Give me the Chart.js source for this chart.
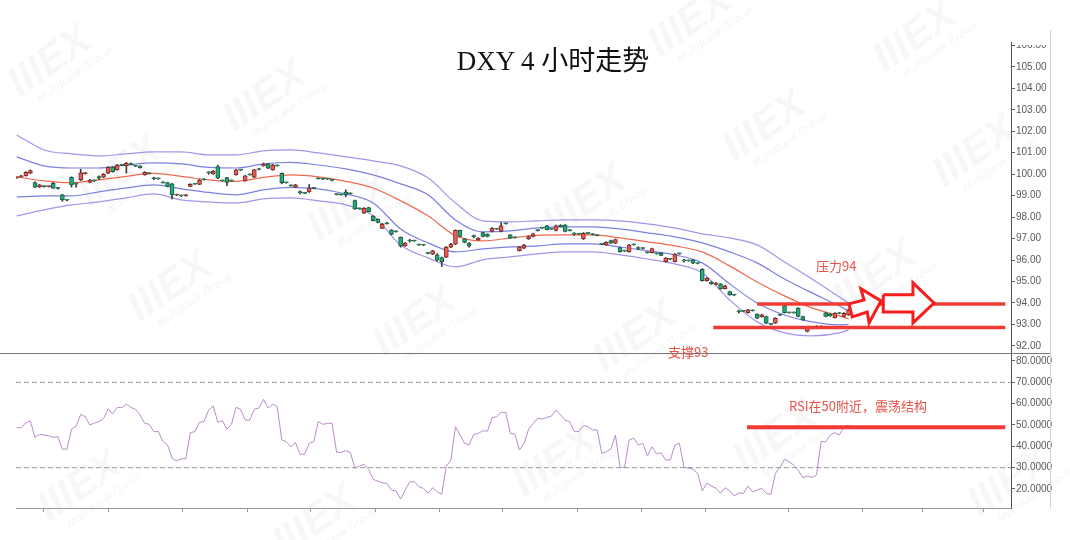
<!doctype html>
<html>
<head>
  <meta charset="utf-8" />
  <title>DXY 4小时走势</title>
  <style>
    body{margin:0;background:#fff}
    #wrap{position:relative;width:1070px;height:540px;overflow:hidden;background:#fff}
    #wrap canvas{position:absolute;left:0}
    .note{position:absolute;color:#e8534a;font:13px "Noto Sans CJK SC","Liberation Sans",sans-serif;white-space:nowrap;line-height:16px}
    .rule{position:absolute;background:#777}
    #title{position:absolute;left:353px;width:400px;top:46px;text-align:center;color:#111;
      font:27px "Liberation Serif","Noto Sans CJK SC",serif;line-height:30px}
    .wm{position:absolute;transform:rotate(-35deg);transform-origin:left top;color:rgba(0,0,0,.05);
      font:italic 900 42px "Liberation Sans",sans-serif;line-height:40px;white-space:nowrap}
    .wm span{display:block;font:italic 700 11px "Liberation Sans",sans-serif;line-height:12px;margin-left:14px}
  </style>
</head>
<body>
  <div id="wrap">
    <div class="wm" style="left:0;top:70px">IIIEX<span>MultiBank Group</span></div>
    <div class="wm" style="left:215px;top:105px">IIIEX<span>MultiBank Group</span></div>
    <div class="wm" style="left:640px;top:30px">IIIEX<span>MultiBank Group</span></div>
    <div class="wm" style="left:865px;top:45px">IIIEX<span>MultiBank Group</span></div>
    <div class="wm" style="left:715px;top:135px">IIIEX<span>MultiBank Group</span></div>
    <div class="wm" style="left:925px;top:160px">IIIEX<span>MultiBank Group</span></div>
    <div class="wm" style="left:70px;top:180px">IIIEX<span>MultiBank Group</span></div>
    <div class="wm" style="left:300px;top:215px">IIIEX<span>MultiBank Group</span></div>
    <div class="wm" style="left:535px;top:210px">IIIEX<span>MultiBank Group</span></div>
    <div class="wm" style="left:120px;top:295px">IIIEX<span>MultiBank Group</span></div>
    <div class="wm" style="left:365px;top:330px">IIIEX<span>MultiBank Group</span></div>
    <div class="wm" style="left:585px;top:345px">IIIEX<span>MultiBank Group</span></div>
    <div class="wm" style="left:825px;top:285px">IIIEX<span>MultiBank Group</span></div>
    <div class="wm" style="left:30px;top:495px">IIIEX<span>MultiBank Group</span></div>
    <div class="wm" style="left:265px;top:530px">IIIEX<span>MultiBank Group</span></div>
    <div class="wm" style="left:505px;top:470px">IIIEX<span>MultiBank Group</span></div>
    <div class="wm" style="left:725px;top:445px">IIIEX<span>MultiBank Group</span></div>
    <div class="wm" style="left:960px;top:490px">IIIEX<span>MultiBank Group</span></div>

    <canvas id="priceCanvas" width="1070" height="360" style="top:0"></canvas>
    <canvas id="rsiCanvas" width="1070" height="197" style="top:343px"></canvas>
    <div class="rule" style="left:0;top:353px;width:1050px;height:1px"></div>
    <div class="rule" style="left:1050px;top:30px;width:1px;height:479px;background:#d4d4d4"></div>
    <div style="position:absolute;left:1013px;top:0;width:36px;height:45px;background:#fff"></div>
    <div id="title">DXY 4 小时走势</div>
    <div class="note" style="left:816px;top:258px">压力94</div>
    <div class="note" style="left:668px;top:344px">支撑93</div>
    <div class="note" style="left:789px;top:398px">RSI在50附近，震荡结构</div>
  </div>

  <script src="https://cdn.jsdelivr.net/npm/chart.js@4.4.1/dist/chart.umd.min.js"></script>
  <script>
    // 4h candles, index = bar number
    const opens = [99.83,99.88,99.93,100.05,99.61,99.40,99.44,99.42,99.58,99.36,99.04,98.81,99.85,99.56,99.73,100.03,99.62,99.70,99.89,99.86,
      100.05,100.33,100.20,100.43,100.39,100.50,100.39,100.38,99.97,100.05,99.81,99.80,99.62,99.61,99.55,99.03,99.01,99.00,99.43,99.56,
      99.53,99.76,100.08,100.01,100.36,99.71,99.84,99.71,99.97,100.21,99.69,99.99,99.86,100.24,100.39,100.48,100.20,100.41,100.04,99.62,
      99.48,99.40,99.16,99.13,99.17,99.36,99.81,99.79,99.79,99.73,99.07,99.06,99.17,99.11,98.77,98.41,98.18,98.44,98.05,97.90,
      97.48,97.71,97.40,97.34,97.06,96.66,96.91,96.91,96.72,96.71,96.33,96.27,96.24,96.12,96.13,96.60,96.74,97.38,96.99,96.79,
      97.11,96.94,97.28,97.20,97.33,97.46,97.33,97.71,97.17,97.06,96.44,96.55,96.98,97.10,97.39,97.51,97.60,97.46,97.38,97.63,
      97.63,97.39,97.23,97.23,96.98,97.26,97.21,97.16,96.76,96.70,96.91,96.79,96.58,96.44,96.39,96.73,96.56,96.56,96.36,96.35,
      96.31,96.33,95.93,96.06,95.93,96.31,95.98,95.98,96.01,95.86,95.57,95.04,94.98,94.86,94.89,94.67,94.53,94.39,93.61,93.63,
      93.55,93.66,93.48,93.35,93.37,93.02,93.06,93.45,93.88,93.56,93.56,93.76,93.37,92.67,92.86,92.88,92.91,93.54,93.50,93.32,
      93.53,93.37,93.44];
    const closes = [99.85,99.92,100.09,100.17,99.40,99.50,99.42,99.44,99.35,99.34,98.80,98.79,99.50,99.54,100.07,100.05,99.73,99.69,99.81,100.00,
      100.33,100.12,100.43,100.41,100.51,100.45,100.37,100.30,100.09,100.03,99.79,99.78,99.60,99.43,99.04,99.05,98.99,99.02,99.53,99.54,
      99.73,99.74,100.06,100.15,99.81,99.69,99.62,99.69,100.20,100.19,99.92,99.97,100.20,100.22,100.46,100.28,100.43,100.39,99.61,99.60,
      99.46,99.50,99.14,99.11,99.35,99.34,99.79,99.77,99.77,99.71,99.05,99.04,99.04,99.09,98.38,98.39,98.41,98.26,97.84,97.75,
      97.68,97.69,97.20,97.32,96.66,96.79,96.89,96.89,96.70,96.69,96.31,96.43,96.00,95.93,96.60,96.75,97.38,97.10,96.82,96.66,
      97.09,97.02,97.10,97.10,97.48,97.44,97.60,97.69,97.02,97.04,96.60,96.70,97.10,97.22,97.37,97.49,97.42,97.44,97.60,97.56,
      97.33,97.37,97.21,97.21,97.25,97.24,97.19,97.14,96.74,96.83,96.79,96.95,96.39,96.42,96.70,96.71,96.54,96.54,96.34,96.53,
      96.29,96.22,96.09,96.04,96.27,96.29,95.96,95.96,95.85,95.84,95.04,95.15,94.89,94.93,94.66,94.80,94.38,94.37,93.59,93.61,
      93.68,93.64,93.29,93.45,93.06,93.00,93.29,93.43,93.55,93.54,93.54,93.37,93.21,92.82,92.84,92.86,92.89,93.37,93.40,93.52,
      93.51,93.52,93.68];
    const highs = [99.88,99.95,100.12,100.20,99.65,99.53,99.46,99.46,99.62,99.38,99.07,98.83,99.88,99.60,100.23,100.08,99.76,99.73,99.92,100.03,
      100.36,100.35,100.46,100.45,100.55,100.53,100.41,100.40,100.12,100.07,99.86,99.82,99.64,99.63,99.58,99.07,99.03,99.04,99.56,99.58,
      99.76,99.78,100.12,100.18,100.42,99.73,99.86,99.73,100.23,100.23,99.95,100.01,100.23,100.26,100.52,100.50,100.46,100.43,100.06,99.64,
      99.50,99.53,99.22,99.15,99.52,99.38,99.83,99.81,99.81,99.75,99.09,99.08,99.27,99.13,98.80,98.43,98.44,98.46,98.07,97.92,
      97.71,97.76,97.42,97.36,97.08,96.82,96.97,96.93,96.74,96.73,96.35,96.46,96.30,96.14,96.63,96.78,97.41,97.40,97.01,96.81,
      97.17,97.05,97.30,97.22,97.51,97.48,97.75,97.73,97.19,97.08,96.63,96.73,97.13,97.25,97.41,97.53,97.62,97.48,97.63,97.65,
      97.65,97.41,97.28,97.25,97.28,97.28,97.23,97.18,96.78,96.86,96.93,96.98,96.60,96.46,96.73,96.75,96.62,96.58,96.38,96.56,
      96.33,96.35,96.12,96.08,96.30,96.33,96.04,96.00,96.03,95.88,95.60,95.18,95.00,94.96,94.91,94.83,94.55,94.41,93.67,93.65,
      93.71,93.68,93.50,93.48,93.39,93.04,93.32,93.47,93.90,93.58,93.58,93.78,93.39,92.85,92.88,92.95,92.93,93.56,93.52,93.55,
      93.55,93.55,93.72];
    const lows = [99.80,99.86,99.91,100.02,99.37,99.38,99.40,99.40,99.33,99.30,98.74,98.76,99.40,99.40,99.70,100.00,99.60,99.66,99.74,99.84,
      100.03,100.10,100.18,100.39,100.05,100.43,100.35,100.28,99.95,100.01,99.74,99.76,99.58,99.41,98.85,99.00,98.96,98.97,99.41,99.52,
      99.51,99.72,100.00,99.99,99.79,99.67,99.47,99.67,99.95,100.17,99.67,99.95,99.84,100.20,100.37,100.26,100.18,100.37,99.55,99.58,
      99.44,99.38,99.08,99.09,99.15,99.32,99.77,99.75,99.75,99.69,99.03,99.02,98.95,99.07,98.36,98.37,98.16,98.24,97.82,97.73,
      97.46,97.67,97.18,97.30,96.60,96.64,96.83,96.87,96.68,96.67,96.29,96.25,95.95,95.70,96.11,96.58,96.72,97.08,96.80,96.60,
      97.03,96.92,97.08,97.08,97.31,97.42,97.31,97.67,97.00,97.02,96.42,96.53,96.96,97.08,97.35,97.47,97.40,97.42,97.36,97.54,
      97.31,97.35,97.15,97.19,96.96,97.22,97.17,97.12,96.72,96.68,96.77,96.77,96.37,96.40,96.37,96.69,96.48,96.52,96.32,96.33,
      96.27,96.20,95.91,96.02,95.91,96.27,95.90,95.94,95.83,95.82,95.02,95.02,94.87,94.84,94.64,94.65,94.36,94.35,93.53,93.59,
      93.53,93.62,93.27,93.33,93.04,92.98,93.04,93.41,93.53,93.52,93.52,93.35,93.19,92.65,92.82,92.80,92.87,93.35,93.38,93.30,
      93.49,93.35,93.42];

    // band lines read every 6 bars
    const bandIdx = [0,6,12,18,24,30,36,42,48,54,60,66,72,78,84,90,96,102,108,114,120,126,132,138,144,150,156,162,168,174,180,182];
    const upperOuter = [101.83,101.13,100.95,100.85,100.95,101.04,101.04,100.90,100.90,101.09,101.13,100.99,100.81,100.62,100.39,99.83,98.66,97.83,97.78,97.83,97.87,97.87,97.83,97.69,97.50,97.22,97.03,96.71,95.91,95.12,94.28,94.00];
    const upperInner = [100.81,100.39,100.29,100.29,100.43,100.53,100.48,100.32,100.29,100.48,100.55,100.43,100.25,99.97,99.55,99.04,97.87,97.31,97.36,97.50,97.55,97.55,97.45,97.27,97.08,96.80,96.38,95.87,95.12,94.47,93.86,93.63];
    const middle = [99.88,99.69,99.60,99.74,99.90,100.04,99.90,99.74,99.67,99.85,99.97,99.88,99.67,99.36,98.76,98.06,97.13,96.89,97.03,97.15,97.17,97.17,97.03,96.85,96.66,96.38,95.73,94.98,94.33,93.77,93.40,93.26];
    const lowerInner = [98.94,98.99,98.99,99.18,99.36,99.50,99.32,99.15,99.04,99.27,99.39,99.32,99.08,98.66,97.45,96.80,96.38,96.52,96.61,96.66,96.75,96.75,96.61,96.43,96.24,95.87,94.89,94.00,93.44,93.12,92.98,93.00];
    const lowerOuter = [98.06,98.34,98.57,98.71,98.90,99.08,98.80,98.71,98.66,98.85,98.90,98.76,98.57,98.06,96.70,96.10,95.68,96.01,96.15,96.29,96.38,96.38,96.24,96.05,95.82,95.40,94.14,93.12,92.61,92.47,92.61,92.75];

    const rsi = [48.7,48.7,51.1,51.9,44.2,45.6,45.3,45.0,44.2,44.5,38.7,38.7,48.1,49.4,55.0,53.9,50.0,50.9,51.6,53.1,
      57.5,55.2,58.3,58.1,59.8,58.3,57.3,54.7,50.8,50.3,46.9,46.9,42.2,40.7,34.4,33.2,34.1,34.1,46.4,46.9,
      51.3,51.6,57.0,59.0,51.3,52.0,48.1,50.3,58.3,57.3,52.3,52.3,57.4,57.9,62.0,57.9,59.8,58.6,43.0,42.2,
      39.8,41.8,36.3,36.3,41.4,42.2,51.6,50.3,50.8,50.8,37.2,37.2,38.0,37.2,29.7,30.8,31.5,29.2,24.5,23.7,
      22.9,22.6,19.5,19.1,15.3,19.5,23.4,23.4,21.1,20.3,18.0,20.6,18.7,17.5,30.8,33.6,49.2,45.3,41.4,40.7,
      45.6,46.1,47.3,47.1,53.4,53.9,55.9,55.9,46.1,45.8,38.3,41.4,48.0,50.8,53.1,52.8,53.6,54.2,57.0,54.7,
      52.3,51.6,46.9,46.9,49.7,49.2,47.7,47.7,36.7,37.5,38.7,45.3,30.2,30.2,43.0,43.8,40.6,41.4,35.5,39.8,
      36.4,37.0,33.6,33.6,40.6,41.4,30.2,29.7,29.2,27.3,19.1,22.7,21.4,20.3,18.0,20.6,19.1,16.7,18.2,17.9,
      21.4,18.7,19.5,20.3,18.0,17.5,27.3,30.2,33.9,32.8,31.2,28.8,25.3,26.1,25.4,26.6,42.2,42.2,45.3,46.4,
      45.3,49.2,50.0];

    const dayTicks = [5.8,20,36.2,50.4,64.2,78.4,92.4,106.4,122.6,136.8,150.6,168.8,185,198.2,211.5];

    // marked levels and arrows (bar index, price)
    const resistance = 93.95, resistanceFrom = 162;
    const support = 92.86, supportFrom = 152.4;
    const rsiLevel = 48.9, rsiLevelFrom = 159.8;
    const levelTo = 216.3;
    const arrow1X = [182.1,185.4,184.7,189.1,186.5,186.1,182.8,182.1];
    const arrow1Y = [93.96,94.14,94.66,94.10,93.07,93.58,93.35,93.96];
    const arrow2X = [189.6,196.1,196.1,200.7,196.1,196.1,189.6,189.6];
    const arrow2Y = [94.38,94.38,94.94,94.00,93.07,93.58,93.58,94.38];

    const xMin = -0.15, xMax = 217.55;
    const UP = '#ec5e55', DOWN = '#1fae78';

    const band = (vals, color, w) => ({
      type: 'line', data: bandIdx.map((x, k) => ({x, y: vals[k]})),
      borderColor: color, borderWidth: w, pointRadius: 0, cubicInterpolationMode: 'monotone', order: 5
    });
    const level = (from, v, color, w) => ({
      type: 'line', data: [{x: from, y: v}, {x: levelTo, y: v}],
      borderColor: color, borderWidth: w, pointRadius: 0, order: 1
    });
    const arrow = (xs, ys) => ({
      type: 'line', data: xs.map((x, k) => ({x, y: ys[k]})),
      borderColor: '#f51d1d', borderWidth: 3, backgroundColor: '#fff', fill: 'shape',
      borderJoinStyle: 'miter', pointRadius: 0, tension: 0, order: 0
    });
    const isUp = i => closes[i] >= opens[i];

    const rightAxis = (min, max, step, digits) => ({
      position: 'right', min, max,
      afterFit: s => { s.width = 41; },
      grid: { drawOnChartArea: false, tickLength: 4, color: '#666' },
      border: { color: '#555' },
      ticks: { stepSize: step, includeBounds: false, padding: 1, color: '#5a5a5a',
        font: { size: 10, family: 'Liberation Sans' }, callback: v => v.toFixed(digits) }
    });

    new Chart(document.getElementById('priceCanvas'), {
      type: 'line',
      data: { datasets: [
        band(upperOuter, '#a593ea', 1.2),
        band(upperInner, '#7c80e2', 1.2),
        band(middle, '#ee6a4c', 1.2),
        band(lowerInner, '#7c80e2', 1.2),
        band(lowerOuter, '#a593ea', 1.2),
        { type: 'bar', data: highs.map((h, i) => ({x: i, y: [lows[i], h]})),
          backgroundColor: '#3a3a3a', barThickness: 1, grouped: false, order: 3 },
        { type: 'bar', data: opens.map((o, i) => ({x: i, y: [o, closes[i]]})),
          backgroundColor: c => isUp(c.dataIndex) ? UP : DOWN,
          borderColor: c => isUp(c.dataIndex) ? '#7d2a26' : '#1c5a40',
          borderWidth: 1, borderSkipped: false, barThickness: 4, minBarLength: 1,
          grouped: false, order: 2 },
        level(resistanceFrom, resistance, '#f23a35', 3.5),
        level(supportFrom, support, '#f23a35', 3.5),
        arrow(arrow1X, arrow1Y),
        arrow(arrow2X, arrow2Y)
      ]},
      options: {
        responsive: false, animation: false,
        layout: { padding: { top: 42, left: 16, right: 18, bottom: 7 } },
        plugins: { legend: { display: false }, tooltip: { enabled: false } },
        scales: {
          x: { type: 'linear', min: xMin, max: xMax, offset: false, display: false },
          y: rightAxis(91.67, 106.16, 1, 2)
        }
      }
    });

    new Chart(document.getElementById('rsiCanvas'), {
      type: 'line',
      data: { datasets: [
        { data: rsi.map((v, i) => ({x: i, y: v})), borderColor: '#b98bc9', borderWidth: 1,
          pointRadius: 0, tension: 0, order: 2 },
        { data: [{x: xMin, y: 70}, {x: xMax, y: 70}], borderColor: '#999', borderWidth: 1,
          borderDash: [5, 3], pointRadius: 0, order: 3 },
        { data: [{x: xMin, y: 30}, {x: xMax, y: 30}], borderColor: '#999', borderWidth: 1,
          borderDash: [5, 3], pointRadius: 0, order: 3 },
        level(rsiLevelFrom, rsiLevel, '#f23a35', 4)
      ]},
      options: {
        responsive: false, animation: false,
        layout: { padding: { top: 10, left: 16, right: 18, bottom: 0 } },
        plugins: { legend: { display: false }, tooltip: { enabled: false } },
        scales: {
          x: { type: 'linear', min: xMin, max: xMax, offset: false,
            afterFit: s => { s.height = 32; },
            afterBuildTicks: s => { s.ticks = dayTicks.map(v => ({value: v})); },
            grid: { drawOnChartArea: false, tickLength: 4, color: '#999' },
            border: { color: '#999' },
            ticks: { autoSkip: false, maxRotation: 0, callback: () => '' } },
          y: rightAxis(11.09, 83.75, 10, 4)
        }
      }
    });
  </script>
</body>
</html>
